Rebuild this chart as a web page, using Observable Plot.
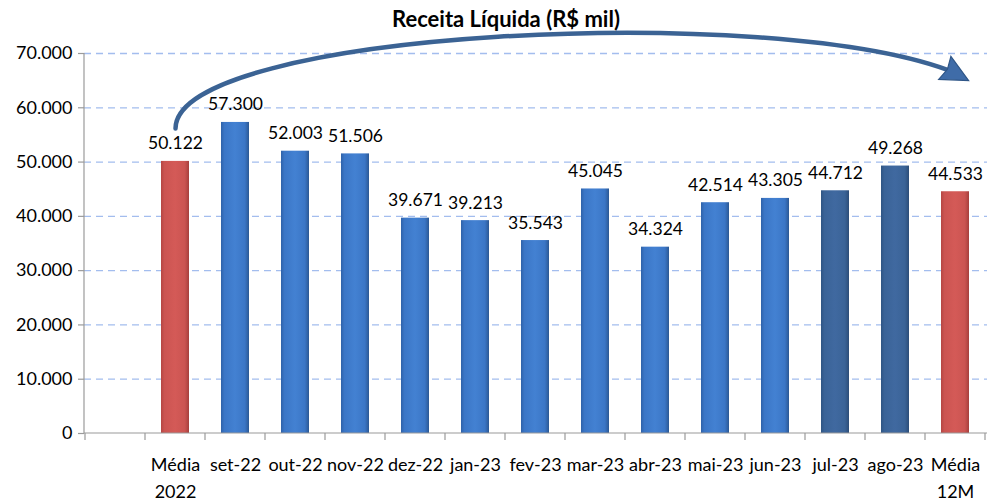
<!DOCTYPE html>
<html>
<head>
<meta charset="utf-8">
<script src="https://cdn.jsdelivr.net/npm/d3@7"></script>
<script src="https://cdn.jsdelivr.net/npm/@observablehq/plot@0.6"></script>
<style>
  html, body { margin: 0; padding: 0; background: #fff; }
  #wrap { position: relative; width: 988px; height: 502px; font-family: Lato, "Open Sans", sans-serif; }
  #title { position: absolute; left: 0; top: 5px; width: 1012px; text-align: center; font-weight: bold; font-size: 22px; color: #000; z-index: 2; pointer-events: none; }
  #chart { position: absolute; left: 0; top: 0; }
</style>
</head>
<body>
<div id="wrap">
  <div id="title">Receita Líquida (R$ mil)</div>
  <div id="chart"></div>
</div>
<script>
// ---- data ----
const categories = ["Média 2022", "set-22", "out-22", "nov-22", "dez-22", "jan-23", "fev-23", "mar-23", "abr-23", "mai-23", "jun-23", "jul-23", "ago-23", "Média 12M"];
const tickLabels = ["Média\n2022", "set-22", "out-22", "nov-22", "dez-22", "jan-23", "fev-23", "mar-23", "abr-23", "mai-23", "jun-23", "jul-23", "ago-23", "Média\n12M"];
const values = [50122, 57300, 52003, 51506, 39671, 39213, 35543, 45045, 34324, 42514, 43305, 44712, 49268, 44533];
const groups = ["media", "mes", "mes", "mes", "mes", "mes", "mes", "mes", "mes", "mes", "mes", "recente", "recente", "media"];
const yTicks = [0, 10000, 20000, 30000, 40000, 50000, 60000, 70000];
// curved arrow annotation (Bezier: start, two control points, end), in data units
const arrowCats = ["Média 2022", "Média 2022", "jun-23", "Média 12M"];
const arrowValues = [56200, 74200, 79800, 66400];

const data = categories.map((c, i) => ({cat: c, value: values[i], group: groups[i], label: tickLabels[i]}));
const arrowPts = arrowCats.map((c, i) => ({cat: c, value: arrowValues[i]}));
const domainX = [""].concat(categories);
const labelOf = new Map(categories.map((c, i) => [c, tickLabels[i]]));

const ptBR = d3.formatLocale({decimal: ",", thousands: ".", grouping: [3], currency: ["R$", ""]});
const fmt = ptBR.format(",d");

const NS = "http://www.w3.org/2000/svg";
function el(name, attrs) {
  const e = document.createElementNS(NS, name);
  for (const k in attrs) e.setAttribute(k, attrs[k]);
  return e;
}
function gradient(id, edgeL, mid, center, edgeR) {
  const g = el("linearGradient", {id, x1: "0", x2: "1", y1: "0", y2: "0"});
  [[0, edgeL], [0.12, mid], [0.5, center], [0.85, mid], [1, edgeR]].forEach(([o, c]) => g.appendChild(el("stop", {offset: o, "stop-color": c})));
  return g;
}
function defsMark() {
  const d = el("defs", {});
  d.appendChild(gradient("gRed", "#b44643", "#cb5451", "#d45a57", "#a63f3c"));
  d.appendChild(gradient("gBlue", "#2f62a8", "#3b76c6", "#4381d2", "#2b5894"));
  d.appendChild(gradient("gDark", "#2f5583", "#3a6397", "#4069a0", "#2c4d78"));
  return d;
}
// axis lines and category separators at band boundaries, from the x/y scales
function frameMark(index, scales, values, dimensions) {
  const g = el("g", {});
  const x = scales.x, y = scales.y;
  const step = x.step ? x.step() : (dimensions.width - dimensions.marginLeft - dimensions.marginRight) / domainX.length;
  const bw = x.bandwidth ? x.bandwidth() : 0;
  const off = (step - bw) / 2;
  const y0 = y(0);
  const left = dimensions.marginLeft;
  g.appendChild(el("line", {x1: left, x2: left, y1: y(70000), y2: y0, stroke: "#9a9a9a", "stroke-width": 1.2}));
  g.appendChild(el("line", {x1: left, x2: dimensions.width - dimensions.marginRight, y1: y0, y2: y0, stroke: "#9a9a9a", "stroke-width": 1.2}));
  const xs = domainX.map(c => x(c) - off);
  xs.push(x(domainX[domainX.length - 1]) - off + step);
  xs.forEach(px => g.appendChild(el("line", {x1: px, x2: px, y1: y0, y2: y0 + 7, stroke: "#9a9a9a", "stroke-width": 1.2})));
  return g;
}
// cubic Bezier curve factory: first point start, 2 controls, last point end
function bezierCurve(context) {
  let pts = [];
  return {
    areaStart() {}, areaEnd() {},
    lineStart() { pts = []; },
    point(x, y) { pts.push([+x, +y]); },
    lineEnd() {
      if (pts.length === 4) {
        context.moveTo(pts[0][0], pts[0][1]);
        context.bezierCurveTo(pts[1][0], pts[1][1], pts[2][0], pts[2][1], pts[3][0], pts[3][1]);
      } else if (pts.length) {
        context.moveTo(pts[0][0], pts[0][1]);
        pts.slice(1).forEach(p => context.lineTo(p[0], p[1]));
      }
    }
  };
}
// filled arrowhead symbol pointing along +x
const headSymbol = {
  draw(context) {
    context.moveTo(16, 0);
    context.lineTo(-11, -13);
    context.lineTo(-8, 0);
    context.lineTo(-11, 13);
    context.closePath();
  }
};

const fills = {media: "url(#gRed)", mes: "url(#gBlue)", recente: "url(#gDark)"};

const chart = Plot.plot({
  width: 988,
  height: 502,
  marginTop: 53,
  marginBottom: 69,
  marginLeft: 84,
  marginRight: 1,
  style: {fontFamily: "Lato, 'Open Sans', sans-serif", fontSize: "17px", color: "#000", background: "transparent", overflow: "visible"},
  x: {domain: domainX, paddingInner: 0.53, paddingOuter: 0.265, align: 0.5},
  y: {domain: [0, 70000]},
  marks: [
    defsMark,
    Plot.gridY(yTicks.slice(1), {stroke: "#a3bdee", strokeOpacity: 1, strokeWidth: 1.3, strokeDasharray: "7,5"}),
    Plot.axisY({ticks: yTicks, tickSize: 6, tickPadding: 6, tickFormat: fmt, fontSize: 18, stroke: "#9a9a9a", strokeWidth: 1.2, label: null}),
    Plot.axisX({tickSize: 0, tickPadding: 18, fontSize: 18, lineHeight: 1.5, tickFormat: c => labelOf.get(c) ?? "", label: null}),
    ...Object.keys(fills).map(k => Plot.barY(data.filter(d => d.group === k), {x: "cat", y: "value", fill: fills[k]})),
    frameMark,
    Plot.text(data, {x: "cat", y: "value", text: d => fmt(d.value), dy: -12, lineAnchor: "bottom", fontSize: 17.5, fill: "#000"}),
    Plot.line(arrowPts, {x: "cat", y: "value", curve: bezierCurve, stroke: "#3b6394", strokeWidth: 4.5, strokeLinecap: "round"}),
    Plot.dot(arrowPts.slice(-1), {x: "cat", y: "value", symbol: headSymbol, r: 10, fill: "#3f6ca8", stroke: "#2f5687", strokeWidth: 1.2, rotate: 28, dx: -1})
  ]
});
document.getElementById("chart").appendChild(chart);
</script>
</body>
</html>
